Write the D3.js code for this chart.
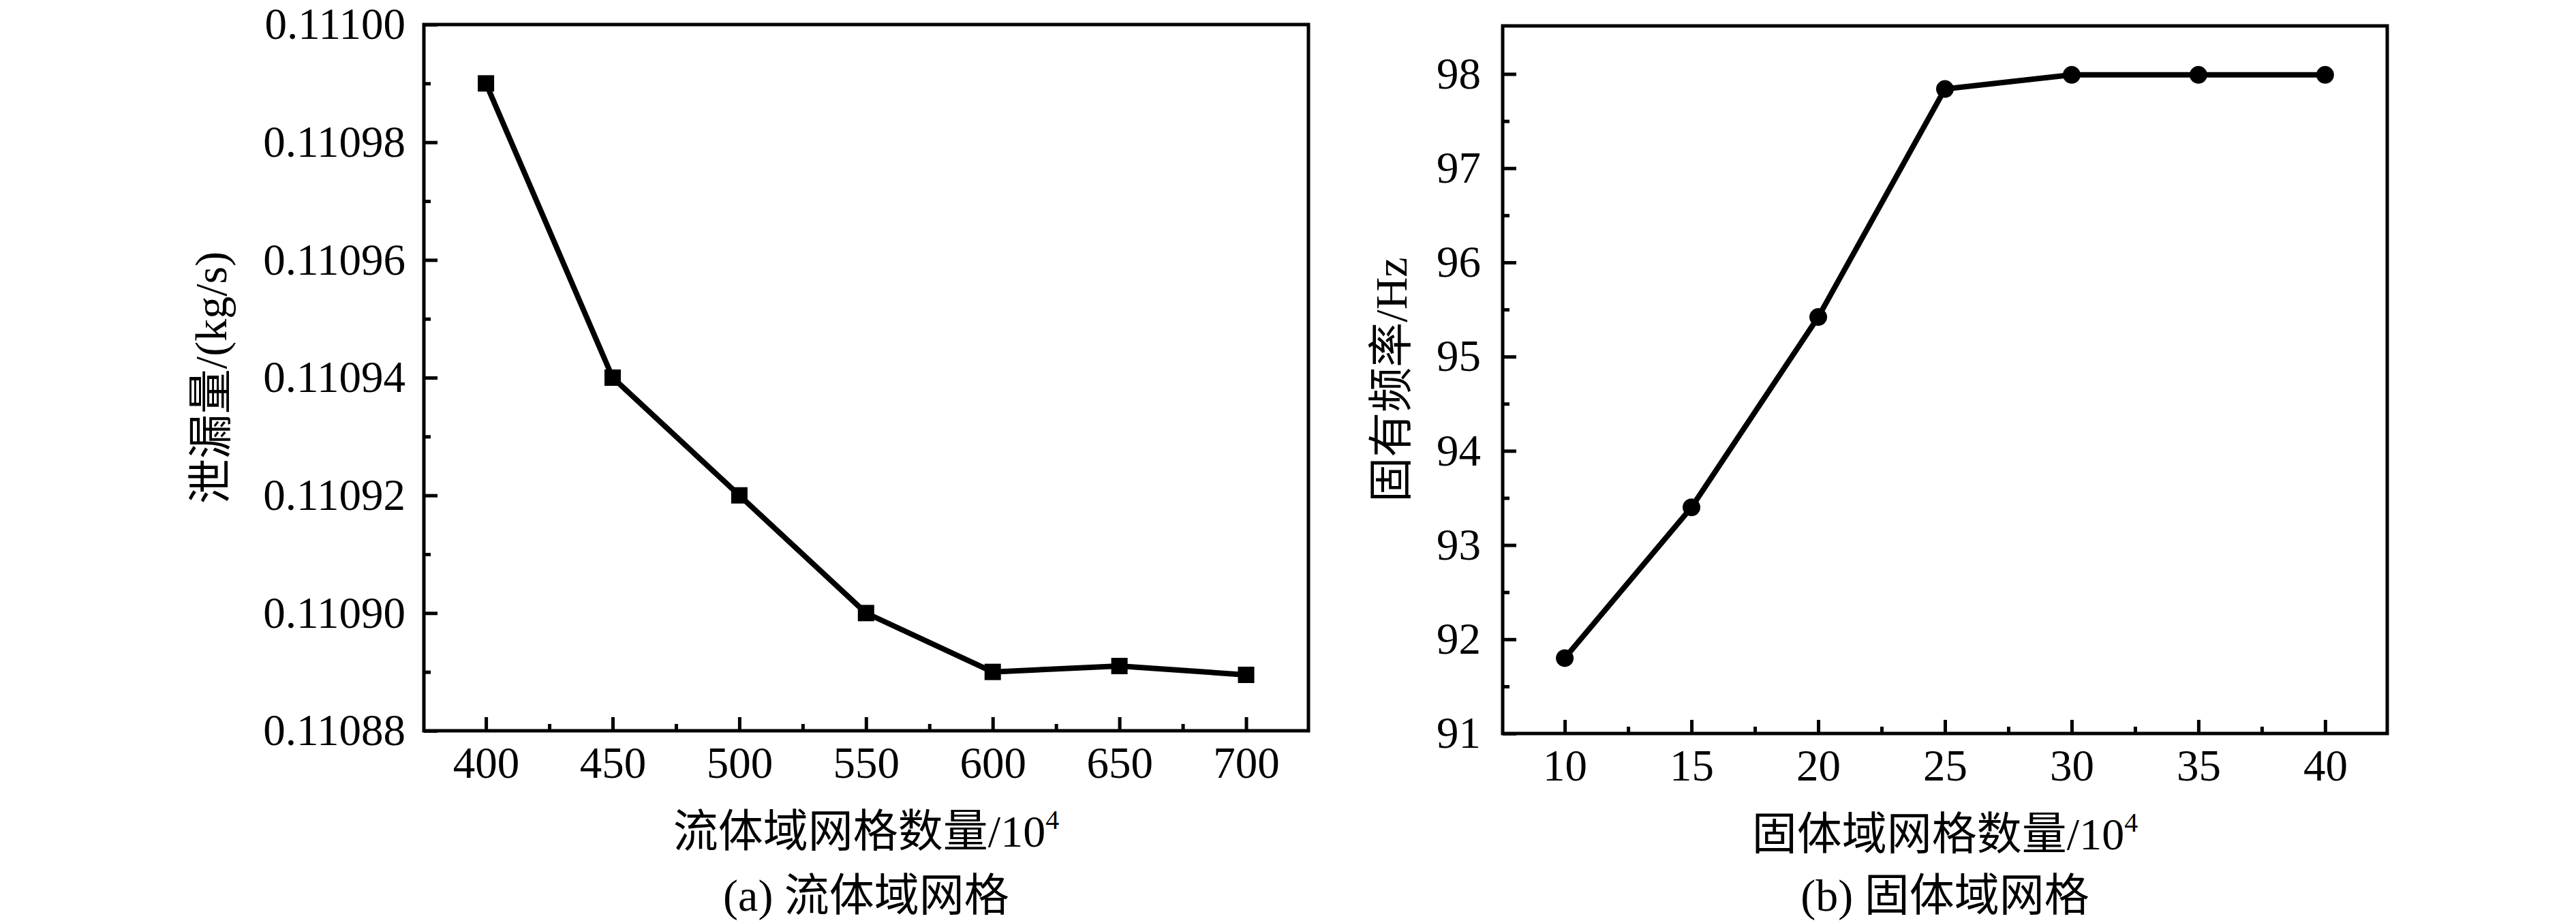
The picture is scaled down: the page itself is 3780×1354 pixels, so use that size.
<!DOCTYPE html>
<html>
<head>
<meta charset="utf-8">
<script src="https://cdn.jsdelivr.net/npm/d3@7"></script>
<style>
  body { margin: 0; background: #fff; }
  text { font-family: "Liberation Serif", "Times New Roman", "Noto Sans CJK SC", serif; fill: #000; }
</style>
</head>
<body>
<svg width="3780" height="1354"></svg>
<script>
// (a) fluid domain mesh
var meshA = [400, 450, 500, 550, 600, 650, 700];
var leakA = [0.11099, 0.11094, 0.11092, 0.11090, 0.11089, 0.110891, 0.1108895];
var xTicksA = [400, 450, 500, 550, 600, 650, 700];
var yTicksA = [0.11088, 0.11090, 0.11092, 0.11094, 0.11096, 0.11098, 0.11100];

// (b) solid domain mesh
var meshB = [10, 15, 20, 25, 30, 35, 40];
var freqB = [91.8, 93.4, 95.42, 97.84, 97.99, 97.99, 97.99];
var xTicksB = [10, 15, 20, 25, 30, 35, 40];
var yTicksB = [91, 92, 93, 94, 95, 96, 97, 98];

var svg = d3.select("svg");

function midpoints(arr) {
  var out = [];
  for (var i = 0; i < arr.length - 1; i++) out.push((arr[i] + arr[i + 1]) / 2);
  return out;
}

function drawPanel(opt) {
  var x = d3.scaleLinear().domain(opt.xDomain).range([opt.left, opt.right]);
  var y = d3.scaleLinear().domain(opt.yDomain).range([opt.bottom, opt.top]);
  var g = svg.append("g");

  // minor ticks
  g.append("g")
    .attr("transform", "translate(0," + opt.bottom + ")")
    .call(d3.axisBottom(x).tickValues(opt.xMinor).tickSize(-10).tickFormat(""))
    .call(function (s) { s.select(".domain").remove(); });
  g.append("g")
    .attr("transform", "translate(" + opt.left + ",0)")
    .call(d3.axisLeft(y).tickValues(opt.yMinor).tickSize(-10).tickFormat(""))
    .call(function (s) { s.select(".domain").remove(); });

  // major ticks
  var xa = g.append("g")
    .attr("transform", "translate(0," + opt.bottom + ")")
    .call(d3.axisBottom(x).tickValues(opt.xTicks).tickSize(-20).tickSizeOuter(0).tickPadding(23));
  var ya = g.append("g")
    .attr("transform", "translate(" + opt.left + ",0)")
    .call(d3.axisLeft(y).tickValues(opt.yTicks).tickSize(-20).tickSizeOuter(0).tickPadding(opt.yPad).tickFormat(opt.yFormat));
  [xa, ya].forEach(function (a) {
    a.select(".domain").remove();
    a.selectAll("text").attr("font-size", 65).attr("font-family", null);
  });
  g.selectAll(".tick line").attr("stroke", "#000").attr("stroke-width", 5);

  // frame
  g.append("rect")
    .attr("x", opt.left).attr("y", opt.top)
    .attr("width", opt.right - opt.left).attr("height", opt.bottom - opt.top)
    .attr("fill", "none").attr("stroke", "#000").attr("stroke-width", 5);

  // line
  var pts = opt.xs.map(function (d, i) { return [d, opt.ys[i]]; });
  g.append("path")
    .datum(pts)
    .attr("fill", "none").attr("stroke", "#000").attr("stroke-width", 8)
    .attr("d", d3.line().x(function (d) { return x(d[0]); }).y(function (d) { return y(d[1]); }));

  // markers
  if (opt.marker === "square") {
    g.selectAll("rect.m").data(pts).enter().append("rect")
      .attr("class", "m")
      .attr("x", function (d) { return x(d[0]) - 12; })
      .attr("y", function (d) { return y(d[1]) - 12; })
      .attr("width", 24).attr("height", 24).attr("fill", "#000");
  } else {
    g.selectAll("circle.m").data(pts).enter().append("circle")
      .attr("class", "m")
      .attr("cx", function (d) { return x(d[0]); })
      .attr("cy", function (d) { return y(d[1]); })
      .attr("r", 13).attr("fill", "#000");
  }

  // x title with superscript
  var cx = (opt.left + opt.right) / 2;
  var xt = svg.append("text")
    .attr("x", cx).attr("y", opt.bottom + 170)
    .attr("text-anchor", "middle").attr("font-size", 66);
  xt.append("tspan").text(opt.xTitle);
  xt.append("tspan").attr("font-size", 40).attr("dy", -26).text("4");

  // caption
  svg.append("text")
    .attr("x", cx).attr("y", 1336)
    .attr("text-anchor", "middle").attr("font-size", 66)
    .text(opt.caption);

  // y title
  svg.append("text")
    .attr("transform", "translate(" + opt.yTitleX + "," + (opt.top + opt.bottom) / 2 + ") rotate(-90)")
    .attr("text-anchor", "middle").attr("dy", "0.35em").attr("font-size", 66)
    .text(opt.yTitle);
}

drawPanel({
  xs: meshA, ys: leakA,
  xDomain: [375.5, 724.6], yDomain: [0.11088, 0.11100],
  left: 622, right: 1920, top: 36, bottom: 1072,
  xTicks: xTicksA, yTicks: yTicksA,
  xMinor: midpoints(xTicksA), yMinor: midpoints(yTicksA),
  yFormat: d3.format(".5f"), yPad: 27,
  marker: "square",
  xTitle: "流体域网格数量/10", caption: "(a) 流体域网格",
  yTitle: "泄漏量/(kg/s)", yTitleX: 309
});

drawPanel({
  xs: meshB, ys: freqB,
  xDomain: [7.55, 42.45], yDomain: [91, 98.51],
  left: 2205, right: 3503, top: 38, bottom: 1076,
  xTicks: xTicksB, yTicks: yTicksB,
  xMinor: midpoints(xTicksB), yMinor: midpoints(yTicksB),
  yFormat: d3.format("d"), yPad: 32,
  marker: "circle",
  xTitle: "固体域网格数量/10", caption: "(b) 固体域网格",
  yTitle: "固有频率/Hz", yTitleX: 2041
});
</script>
</body>
</html>
